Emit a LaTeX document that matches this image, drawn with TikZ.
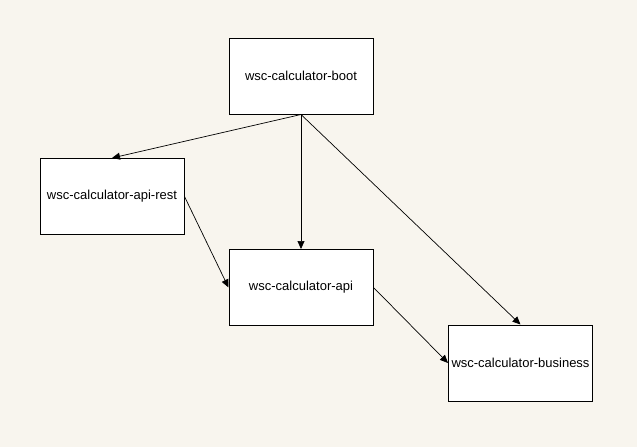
\documentclass[tikz,border=0pt]{standalone}
\usepackage{fontspec}
\setmainfont{Liberation Sans}
\usetikzlibrary{arrows.meta}
\definecolor{bgcream}{HTML}{F8F5EE}
\begin{document}
\begin{tikzpicture}[x=1pt,y=-1pt,
  modbox/.style={draw=black,fill=white,line width=1pt,minimum width=144pt,minimum height=76pt,inner sep=0pt,font=\fontsize{13}{15}\selectfont},
  dep/.style={line width=0.7pt,-{Triangle[length=8pt,width=7pt]}}]
\fill[bgcream] (0,0) rectangle (637,447);
\useasboundingbox (0,0) rectangle (637,447);
\node[modbox] (boot) at (301,76) {wsc-calculator-boot};
\node[modbox] (rest) at (112,196.5) {wsc-calculator-api-rest};
\node[modbox] (api) at (301,287.5) {wsc-calculator-api};
\node[modbox] (bus) at (520.5,363) {wsc-calculator-business};
\draw[dep] (boot.south) -- (rest.north);
\draw[dep] (boot.south) -- (api.north);
\draw[dep] (boot.south) -- (bus.north);
\draw[dep] (rest.east) -- (api.west);
\draw[dep] (api.east) -- (bus.west);
\end{tikzpicture}
\end{document}
